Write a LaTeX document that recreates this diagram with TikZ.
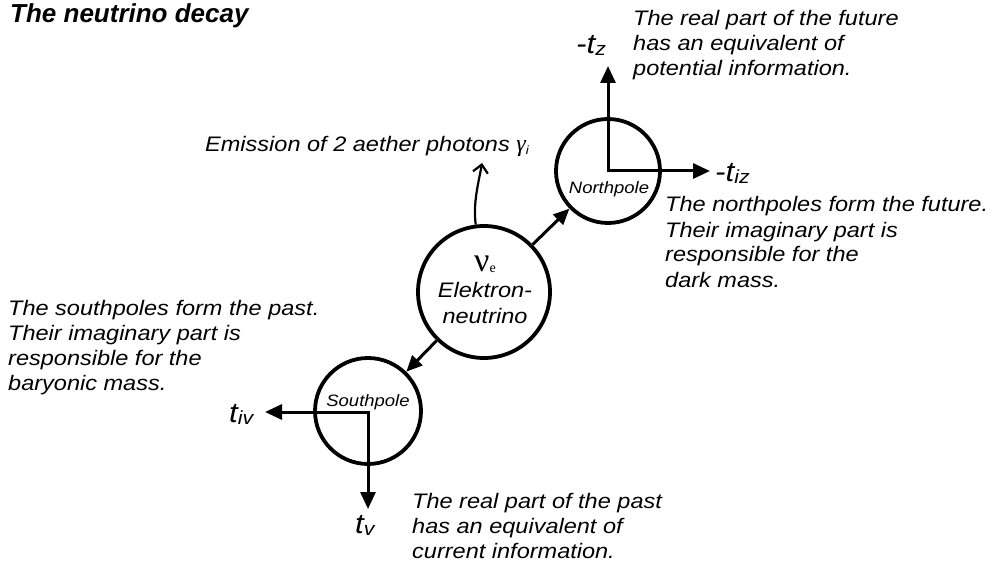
\documentclass[tikz,border=0pt]{standalone}
\usepackage{fontspec}
\setmainfont{Liberation Sans}
\newfontfamily\bodyfont{Liberation Sans}[FakeStretch=1.12]
\newfontfamily\greekfont{Liberation Serif}
\usetikzlibrary{arrows.meta}
\begin{document}
\begin{tikzpicture}[x=1pt,y=-1pt,
  txt/.style={font=\bodyfont\itshape\fontsize{21}{25}\selectfont, align=left, anchor=base west, inner sep=0pt},
  lbl/.style={anchor=base west, inner sep=0pt},
  lblfont/.style={font=\bodyfont\itshape\fontsize{28}{28}\selectfont},
  ring/.style={circle, draw, line width=3.8pt, inner sep=0pt},
  axis/.style={line width=3pt, line join=miter, {Triangle[length=17pt,width=15pt]}-{Triangle[length=17pt,width=15pt]}},
  conn/.style={line width=3pt, -{Triangle[length=16pt,width=14pt]}},
  emit/.style={line width=2.2pt, -{Straight Barb[length=8pt,width=15pt]}},
]
\useasboundingbox (0,0) rectangle (995,569);

% title
\node[anchor=base west, inner sep=0pt, font=\bfseries\itshape\fontsize{26}{28}\selectfont] (title) at (10,23) {The neutrino decay};

% circles
\node[ring, minimum size=132pt] (c) at (484,292) {};
\node[ring, minimum size=104pt] (n) at (608,171) {};
\node[ring, minimum size=106pt] (s) at (368,411) {};

% central text
\node[font=\bodyfont\itshape\fontsize{21}{26}\selectfont, align=center, inner sep=0pt] (ctext) at (485,290)
  {{\greekfont\upshape\fontsize{34}{26}\selectfont ν\raisebox{-1pt}{\fontsize{14}{14}\selectfont e}}\\Elektron-\\neutrino};

% pole labels
\node[font=\bodyfont\itshape\fontsize{16.5}{18}\selectfont, inner sep=0pt] (nl) at (609,189) {Northpole};
\node[font=\bodyfont\itshape\fontsize{16.5}{18}\selectfont, inner sep=0pt] (sl) at (368,402) {Southpole};

% axes
\coordinate (nup) at (608,66);
\coordinate (neast) at (710,171);
\coordinate (swest) at (265,412);
\coordinate (sdown) at (368,509);
\draw[axis] (nup) |- (neast);
\draw[axis] (swest) -| (sdown);

% connectors
\draw[conn] (c) -- (n);
\draw[conn] (c) -- (s);
\coordinate (etip) at (482,163);
\draw[emit] (c.97) .. controls +(-3,-22) and +(-3,18) .. (etip);

% axis labels
\node[lbl, lblfont] (tz) at (576,54) {-t\raisebox{-2pt}{\fontsize{19}{19}\selectfont z}};
\node[lbl, lblfont] (tiz) at (715,182) {-t\raisebox{-2pt}{\fontsize{19}{19}\selectfont iz}};
\node[lbl, lblfont] (tiv) at (229,422) {t\raisebox{-2pt}{\fontsize{19}{19}\selectfont iv}};
\node[lbl, lblfont] (tv) at (355,533) {t\raisebox{-2pt}{\fontsize{19}{19}\selectfont v}};

% texts (anchor = baseline of last line)
\node[txt] (tfut) at (633,76) {The real part of the future\\has an equivalent of\\potential information.};
\node[txt] (temit) at (205,152) {Emission of 2 aether photons {\greekfont\fontsize{24}{24}\selectfont γ}\raisebox{-3pt}{\fontsize{12}{12}\selectfont i}};
\node[txt] (tnorth) at (665,287) {The northpoles form the future.\\Their imaginary part is\\responsible for the\\dark mass.};
\node[txt] (tsouth) at (8,390) {The southpoles form the past.\\Their imaginary part is\\responsible for the\\baryonic mass.};
\node[txt] (tpast) at (412,558) {The real part of the past\\has an equivalent of\\current information.};
\end{tikzpicture}
\end{document}
